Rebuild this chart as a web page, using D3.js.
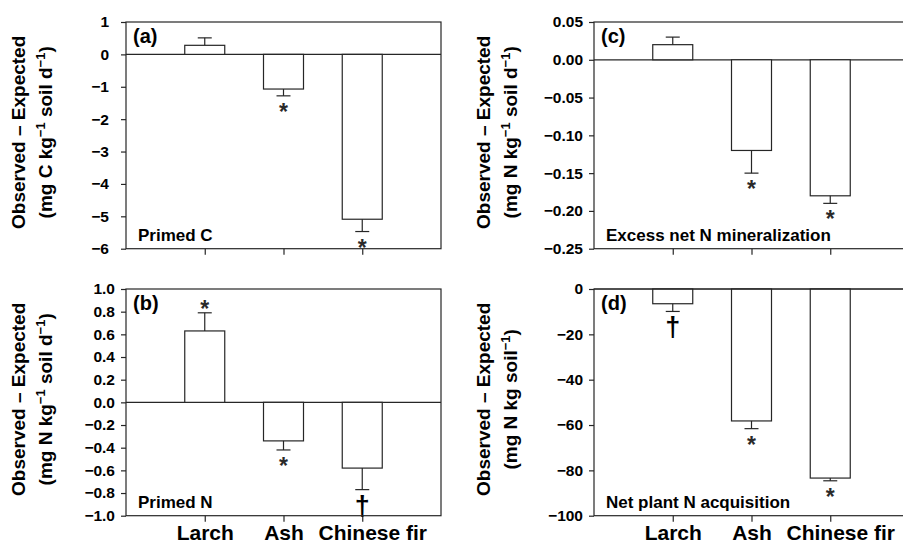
<!DOCTYPE html>
<html>
<head>
<meta charset="utf-8">
<script src="https://cdn.jsdelivr.net/npm/d3@7"></script>
<style>
  body { margin: 0; background: #fff; }
  svg text { font-family: "Liberation Sans", Arial, sans-serif; }
</style>
</head>
<body>
<svg id="chart"></svg>
<script>
// categories shared by all four panels
const species = ["Larch", "Ash", "Chinese fir"];

// (a) primed C
const primedC = [0.28, -1.07, -5.09];
const primedCSE = [0.23, 0.21, 0.38];
const primedCMarks = ["", "*", "*"];

// (b) primed N
const primedN = [0.63, -0.34, -0.58];
const primedNSE = [0.16, 0.08, 0.19];
const primedNMarks = ["*", "*", "†"];

// (c) excess net N mineralization
const excessN = [0.02, -0.12, -0.18];
const excessNSE = [0.01, 0.03, 0.01];
const excessNMarks = ["", "*", "*"];

// (d) net plant N acquisition
const plantN = [-6.5, -58.2, -83.4];
const plantNSE = [3.4, 3.4, 1.2];
const plantNMarks = ["†", "*", "*"];

const ctx = {
  width: 903,
  height: 544,
  panelW: 315,
  panelH: 226.7,
  ink: "#262626"
};

const svg = d3.select("#chart")
  .attr("width", ctx.width)
  .attr("height", ctx.height);

const panels = [
  { tag: "(a)", name: "Primed C", x0: 126, y0: 22, values: primedC, se: primedCSE, marks: primedCMarks,
    domain: [-6, 1], ticks: d3.range(-6, 1.01, 1), fmt: d3.format("d"), showX: false, pad: 12,
    unit: ["(mg C kg", "−1", " soil d", "−1", ")"], titleX: 25 },
  { tag: "(c)", name: "Excess net N mineralization", x0: 594, y0: 22, values: excessN, se: excessNSE, marks: excessNMarks,
    domain: [-0.25, 0.05], ticks: d3.range(-0.25, 0.0501, 0.05), fmt: d3.format(".2f"), showX: false, pad: 6,
    unit: ["(mg N kg", "−1", " soil d", "−1", ")"], titleX: 490 },
  { tag: "(b)", name: "Primed N", x0: 126, y0: 289, values: primedN, se: primedNSE, marks: primedNMarks,
    domain: [-1, 1], ticks: d3.range(-1, 1.001, 0.2), fmt: d3.format(".1f"), showX: true, pad: 6,
    unit: ["(mg N kg", "−1", " soil d", "−1", ")"], titleX: 25 },
  { tag: "(d)", name: "Net plant N acquisition", x0: 594, y0: 289, values: plantN, se: plantNSE, marks: plantNMarks,
    domain: [-100, 0], ticks: d3.range(-100, 0.1, 20), fmt: d3.format("d"), showX: true, pad: 6,
    unit: ["(mg N kg soil", "−1", ")"], titleX: 490 }
];

panels.forEach(drawPanel);

function drawPanel(p) {
  const g = svg.append("g");
  const x = d3.scaleLinear().domain([0, 4]).range([p.x0, p.x0 + ctx.panelW]);
  const y = d3.scaleLinear().domain(p.domain).range([p.y0 + ctx.panelH, p.y0]);
  const barW = 40;
  const capW = 14;

  // y axis
  const yAxis = g.append("g")
    .attr("transform", `translate(${p.x0},0)`)
    .call(d3.axisLeft(y).tickValues(p.ticks).tickFormat(p.fmt).tickSize(5).tickPadding(p.pad).tickSizeOuter(0));
  yAxis.select(".domain").remove();
  yAxis.selectAll("line").attr("stroke", ctx.ink).attr("stroke-width", 1.2);
  yAxis.selectAll("text")
    .attr("fill", "#000")
    .style("font-size", "15.5px")
    .style("font-weight", "bold");

  // x axis
  const xAxis = g.append("g")
    .attr("transform", `translate(0,${p.y0 + ctx.panelH})`)
    .call(d3.axisBottom(x).tickValues([1, 2, 3])
      .tickFormat(d => p.showX ? species[d - 1] : "")
      .tickSize(6).tickPadding(3).tickSizeOuter(0));
  xAxis.select(".domain").remove();
  xAxis.selectAll("line").attr("stroke", ctx.ink).attr("stroke-width", 1.2);
  xAxis.selectAll("text")
    .attr("fill", "#000")
    .attr("dx", d => d === 3 ? 10 : 0)
    .style("font-size", "21px")
    .style("font-weight", "bold");

  // zero line
  g.append("line")
    .attr("x1", p.x0).attr("x2", p.x0 + ctx.panelW)
    .attr("y1", y(0)).attr("y2", y(0))
    .attr("stroke", ctx.ink).attr("stroke-width", 1.2);

  // bars
  g.selectAll("rect.bar")
    .data(p.values)
    .enter()
    .append("rect")
      .attr("class", "bar")
      .attr("x", (d, i) => x(i + 1) - barW / 2)
      .attr("y", d => Math.min(y(d), y(0)))
      .attr("width", barW)
      .attr("height", d => Math.abs(y(d) - y(0)))
      .attr("fill", "#fff")
      .attr("stroke", ctx.ink)
      .attr("stroke-width", 1.2);

  // error bars, drawn away from zero
  const errEnd = (d, i) => d >= 0 ? d + p.se[i] : d - p.se[i];
  g.selectAll("line.err")
    .data(p.values)
    .enter()
    .append("line")
      .attr("class", "err")
      .attr("x1", (d, i) => x(i + 1)).attr("x2", (d, i) => x(i + 1))
      .attr("y1", d => y(d)).attr("y2", (d, i) => y(errEnd(d, i)))
      .attr("stroke", ctx.ink).attr("stroke-width", 1.2);
  g.selectAll("line.cap")
    .data(p.values)
    .enter()
    .append("line")
      .attr("class", "cap")
      .attr("x1", (d, i) => x(i + 1) - capW / 2).attr("x2", (d, i) => x(i + 1) + capW / 2)
      .attr("y1", (d, i) => y(errEnd(d, i))).attr("y2", (d, i) => y(errEnd(d, i)))
      .attr("stroke", ctx.ink).attr("stroke-width", 1.2);

  // significance marks
  g.selectAll("text.mark")
    .data(p.values)
    .enter()
    .append("text")
      .attr("class", "mark")
      .attr("x", (d, i) => x(i + 1))
      .attr("y", (d, i) => {
        const e = y(errEnd(d, i));
        if (p.marks[i] === "†") return e + 6 + 19;
        return d >= 0 ? e - 10 + 14 : e + 10 + 14;
      })
      .attr("text-anchor", "middle")
      .style("font-weight", "bold")
      .style("font-size", (d, i) => p.marks[i] === "†" ? "27px" : "23px")
      .attr("fill", (d, i) => p.marks[i] === "†" ? "#000" : "#2a2a2a")
      .text((d, i) => p.marks[i]);

  // frame
  g.append("rect")
    .attr("x", p.x0).attr("y", p.y0)
    .attr("width", ctx.panelW).attr("height", ctx.panelH)
    .attr("fill", "none")
    .attr("stroke", ctx.ink).attr("stroke-width", 1.2);

  // panel tag and name
  g.append("text")
    .attr("x", p.x0 + 7).attr("y", p.y0 + 21)
    .style("font-size", "20px").style("font-weight", "bold")
    .text(p.tag);
  g.append("text")
    .attr("x", p.x0 + 12).attr("y", p.y0 + ctx.panelH - 8)
    .style("font-size", "17px").style("font-weight", "bold")
    .text(p.name);

  // y title
  const cy = p.y0 + ctx.panelH / 2 - 3;
  g.append("text")
    .attr("transform", `translate(${p.titleX},${cy}) rotate(-90)`)
    .attr("text-anchor", "middle")
    .style("font-size", "19px").style("font-weight", "bold")
    .text("Observed – Expected");
  const line2 = g.append("text")
    .attr("transform", `translate(${p.titleX + 27},${cy}) rotate(-90)`)
    .attr("text-anchor", "middle")
    .style("font-size", "19px").style("font-weight", "bold");
  p.unit.forEach((s, k) => {
    const sup = k % 2 === 1;
    line2.append("tspan")
      .attr("dy", sup ? -7 : (k > 0 ? 7 : 0))
      .style("font-size", sup ? "13px" : "19px")
      .text(s);
  });
}
</script>
</body>
</html>
